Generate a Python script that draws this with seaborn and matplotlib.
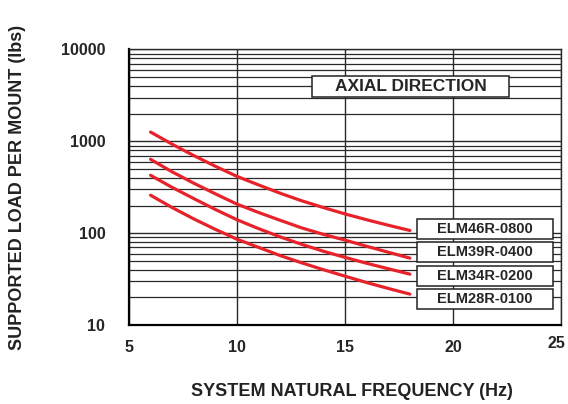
import numpy as np
import pandas as pd
import matplotlib
matplotlib.use("Agg")
import matplotlib.pyplot as plt
import matplotlib.transforms as mtransforms
import seaborn as sns
from matplotlib.patches import Rectangle
from matplotlib.ticker import FixedLocator, NullFormatter, MultipleLocator

# Datos
frecuencia = [6, 7, 8, 9, 10, 11, 12, 13, 14, 15, 16, 17, 18]
modelos = ["ELM46R-0800", "ELM39R-0400", "ELM34R-0200", "ELM28R-0100"]
carga_46r = [1262, 930, 700, 535, 415, 335, 272, 225, 190, 162, 140, 122, 107]
carga_39r = [637, 465, 350, 268, 207, 168, 138, 114, 97, 84, 72, 62, 53.5]
carga_34r = [427, 315, 238, 181, 140, 112, 91, 75.5, 63.5, 54.5, 47, 41, 35.8]
carga_28r = [259, 190, 143, 110, 86, 70, 57, 47.5, 40, 34, 29, 25, 21.7]
x_ticks = [5, 10, 15, 20, 25]
y_ticks = [10, 100, 1000, 10000]
titulo_caja = "AXIAL DIRECTION"

sns.set_style("white")
plt.rcParams["font.family"] = ["Liberation Sans", "DejaVu Sans"]
plt.rcParams["font.weight"] = "bold"

ROJO = "#e8222b"
GRIS = "#2a2a2a"

df = pd.DataFrame({
    "freq": frecuencia * 4,
    "carga": carga_46r + carga_39r + carga_34r + carga_28r,
    "modelo": sum([[m] * len(frecuencia) for m in modelos], []),
})

fig = plt.figure(figsize=(5.68, 4.04), dpi=100)
ax = fig.add_axes([0.227, 0.1955, 0.761, 0.682])

ax.set_yscale("log")
ax.set_xlim(5, 25)
ax.set_ylim(10, 10000)

# Rejilla: todas las menores horizontales, solo mayores verticales
ax.yaxis.set_minor_locator(FixedLocator(
    [m * 10 ** e for e in range(1, 4) for m in range(2, 10)]))
ax.yaxis.set_minor_formatter(NullFormatter())
ax.set_yticks(y_ticks)
ax.set_yticklabels([str(v) for v in y_ticks])
ax.set_xticks(x_ticks)
ax.set_xticklabels([str(v) for v in x_ticks])
ax.xaxis.set_minor_locator(MultipleLocator(0.5))
ax.grid(which="major", axis="both", color=GRIS, lw=1.0)
ax.grid(which="minor", axis="y", color=GRIS, lw=0.9)
ax.set_axisbelow(True)

sns.lineplot(data=df, x="freq", y="carga", hue="modelo",
             palette={m: ROJO for m in modelos}, lw=2.3,
             legend=False, ax=ax, sort=True)

for lado in ["left", "bottom"]:
    ax.spines[lado].set_color("black")
    ax.spines[lado].set_linewidth(1.6)
for lado in ["top", "right"]:
    ax.spines[lado].set_color(GRIS)
    ax.spines[lado].set_linewidth(1.0)

ax.tick_params(axis="y", which="major", direction="out", length=7,
               width=0.9, color="#555555", pad=10, labelsize=11.5)
ax.tick_params(axis="y", which="minor", length=0)
ax.tick_params(axis="x", which="major", direction="out", length=4,
               width=0.9, color="black", pad=7, labelsize=11.5)
ax.tick_params(axis="x", which="minor", direction="in", length=3,
               width=0.8, color="#333333")
for lab in ax.get_xticklabels() + ax.get_yticklabels():
    lab.set_fontweight("bold")

# el "25" queda pegado al borde derecho
ultimo = ax.get_xticklabels()[-1]
ultimo.set_transform(ultimo.get_transform() +
                     mtransforms.ScaledTranslation(-0.05, 0.04, fig.dpi_scale_trans))

ax.set_xlabel("SYSTEM NATURAL FREQUENCY (Hz)", fontsize=13, fontweight="bold",
              color="#222222")
ax.xaxis.set_label_coords(0.515, -0.24)
ax.xaxis.label.set_va("center")
ax.set_ylabel("SUPPORTED LOAD PER MOUNT (lbs)", fontsize=13, fontweight="bold",
              color="#222222")
ax.yaxis.set_label_coords(-0.257, 0.5)
ax.yaxis.label.set_va("center")

# Caja de titulo
ax.add_patch(Rectangle((0.423, 0.8265), 0.457, 0.0773, transform=ax.transAxes,
                       facecolor="white", edgecolor="#222222", lw=1.1, zorder=5))
ax.text(0.423 + 0.457 / 2, 0.8265 + 0.0773 / 2, titulo_caja,
        transform=ax.transAxes, ha="center", va="center",
        fontsize=12.5, fontweight="bold", zorder=6)

# Etiquetas de cada curva
y_cajas = [0.347, 0.264, 0.179, 0.094]
for nombre, yc in zip(modelos, y_cajas):
    ax.add_patch(Rectangle((0.666, yc - 0.0363), 0.315, 0.0726,
                           transform=ax.transAxes, facecolor="white",
                           edgecolor="#222222", lw=1.1, zorder=5))
    ax.text(0.666 + 0.315 / 2, yc, nombre, transform=ax.transAxes,
            ha="center", va="center", fontsize=10.5, fontweight="bold", zorder=6)

plt.savefig("out.png", dpi=100)
